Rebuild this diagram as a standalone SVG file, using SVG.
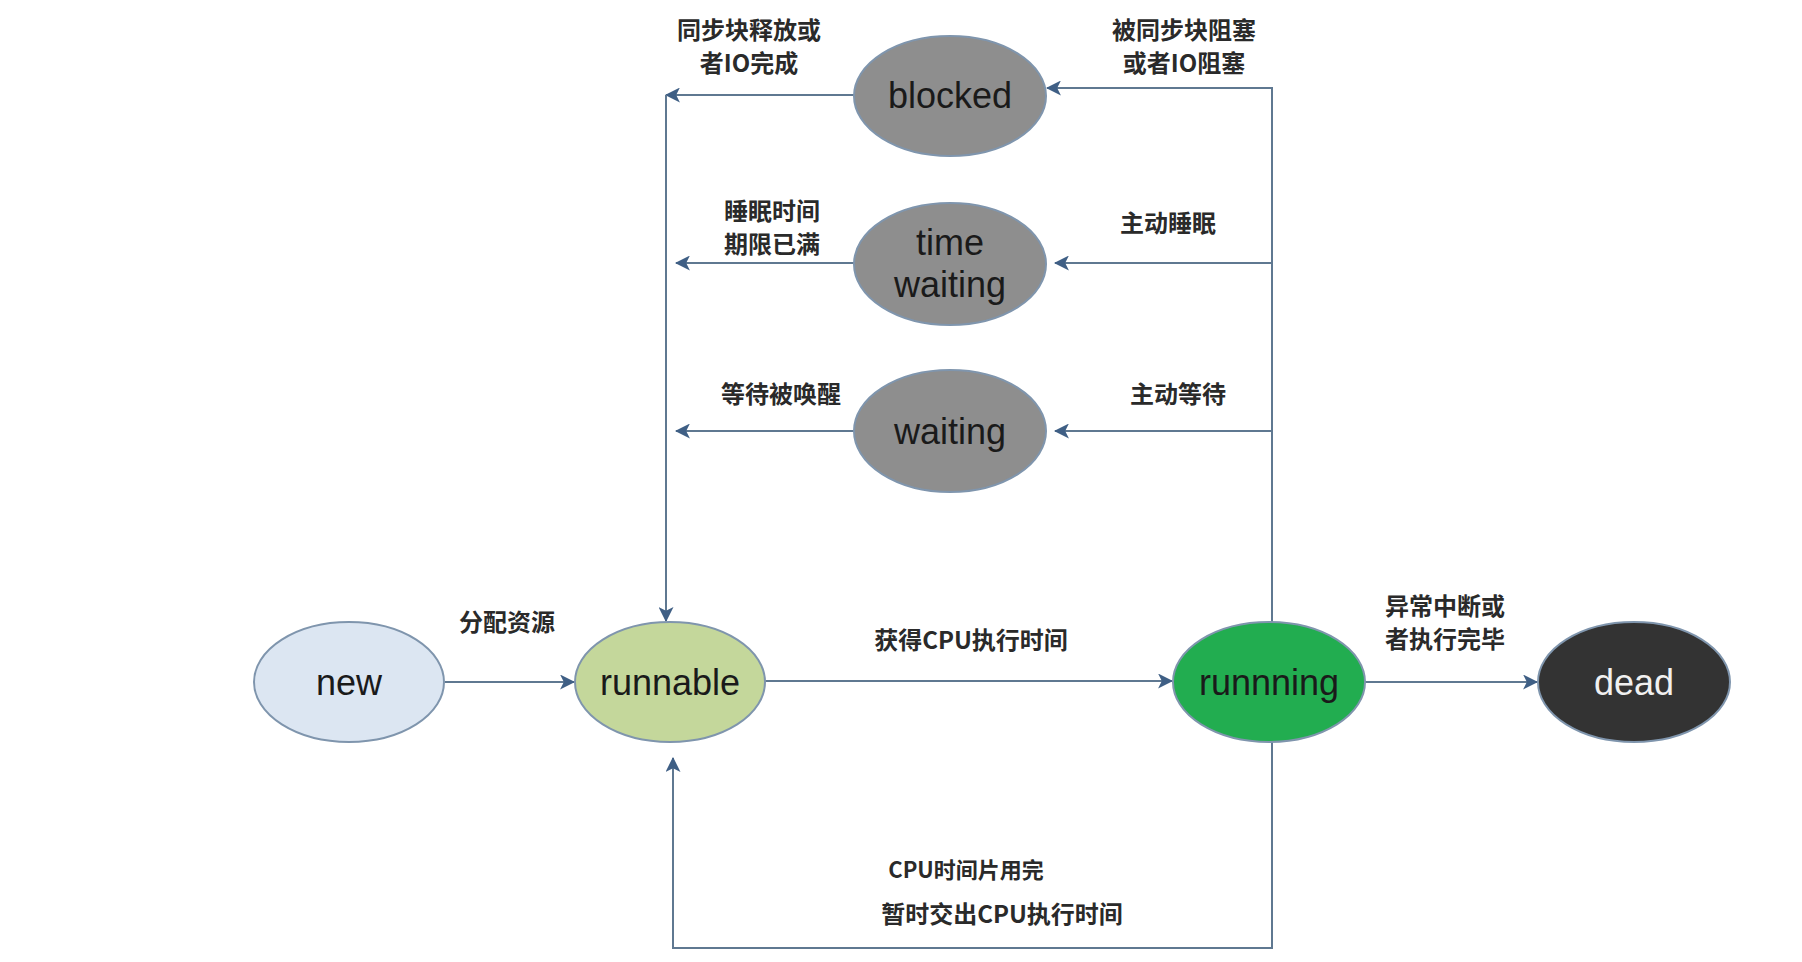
<svg xmlns="http://www.w3.org/2000/svg" width="1802" height="962" viewBox="0 0 1802 962">
<style>
.bg{fill:#ffffff}
.node{stroke:#7f95ad;stroke-width:2}
.lbl{font-family:"Liberation Sans",Arial,sans-serif;font-size:36px;fill:#1a1a1a;text-anchor:middle}
.cn{font-family:"Noto Sans CJK SC","Liberation Sans",sans-serif;font-size:24px;font-weight:bold;fill:#2a2a2a;text-anchor:middle}
.edge{fill:none;stroke:#5f7891;stroke-width:2}
</style>
<defs>
<marker id="arr" viewBox="0 0 14 14" refX="13" refY="7" markerWidth="15" markerHeight="15" markerUnits="userSpaceOnUse" orient="auto">
<path d="M0,0 L14,7 L0,14 L3.5,7 Z" fill="#3f5f85"/>
</marker>
</defs>
<rect class="bg" x="0" y="0" width="1802" height="962"/>
<g id="connectors">
<path class="edge" d="M854,95 H666" marker-end="url(#arr)"/>
<path class="edge" d="M666,95 V621" marker-end="url(#arr)"/>
<path class="edge" d="M854,263 H676" marker-end="url(#arr)"/>
<path class="edge" d="M854,431 H676" marker-end="url(#arr)"/>
<path class="edge" d="M1272,622 V88 H1047" marker-end="url(#arr)"/>
<path class="edge" d="M1272,263 H1055" marker-end="url(#arr)"/>
<path class="edge" d="M1272,431 H1055" marker-end="url(#arr)"/>
<path class="edge" d="M1272,742 V948 H673 V758" marker-end="url(#arr)"/>
<path class="edge" d="M445,682 H574" marker-end="url(#arr)"/>
<path class="edge" d="M765,681 H1172" marker-end="url(#arr)"/>
<path class="edge" d="M1365,682 H1537" marker-end="url(#arr)"/>
</g>
<g id="edge-labels">
<text class="cn" x="749" y="39">同步块释放或</text>
<text class="cn" x="749" y="72">者IO完成</text>
<text class="cn" x="1184" y="39">被同步块阻塞</text>
<text class="cn" x="1184" y="72">或者IO阻塞</text>
<text class="cn" x="772" y="220">睡眠时间</text>
<text class="cn" x="772" y="253">期限已满</text>
<text class="cn" x="1168" y="232">主动睡眠</text>
<text class="cn" x="781" y="403">等待被唤醒</text>
<text class="cn" x="1178" y="403">主动等待</text>
<text class="cn" x="507" y="631">分配资源</text>
<text class="cn" x="971" y="649">获得CPU执行时间</text>
<text class="cn" x="1445" y="615">异常中断或</text>
<text class="cn" x="1445" y="648">者执行完毕</text>
<text class="cn" x="966" y="878" style="font-size:22px">CPU时间片用完</text>
<text class="cn" x="1002" y="923">暂时交出CPU执行时间</text>
</g>
<g id="node-blocked">
<ellipse class="node" cx="950" cy="96" rx="96" ry="60" fill="#8e8e8e"/>
<text class="lbl" x="950" y="108">blocked</text>
</g>
<g id="node-timewaiting">
<ellipse class="node" cx="950" cy="264" rx="96" ry="61" fill="#8e8e8e"/>
<text class="lbl" x="950" y="255">time</text>
<text class="lbl" x="950" y="297">waiting</text>
</g>
<g id="node-waiting">
<ellipse class="node" cx="950" cy="431" rx="96" ry="61" fill="#8e8e8e"/>
<text class="lbl" x="950" y="444">waiting</text>
</g>
<g id="node-new">
<ellipse class="node" cx="349" cy="682" rx="95" ry="60" fill="#dce6f2"/>
<text class="lbl" x="349" y="695">new</text>
</g>
<g id="node-runnable">
<ellipse class="node" cx="670" cy="682" rx="95" ry="60" fill="#c4d79b"/>
<text class="lbl" x="670" y="695">runnable</text>
</g>
<g id="node-running">
<ellipse class="node" cx="1269" cy="682" rx="96" ry="60" fill="#22ad50"/>
<text class="lbl" x="1269" y="695">runnning</text>
</g>
<g id="node-dead">
<ellipse class="node" cx="1634" cy="682" rx="96" ry="60" fill="#333333" stroke="#3a4a5a"/>
<text class="lbl" x="1634" y="695" style="fill:#f0f0f0">dead</text>
</g>
</svg>
